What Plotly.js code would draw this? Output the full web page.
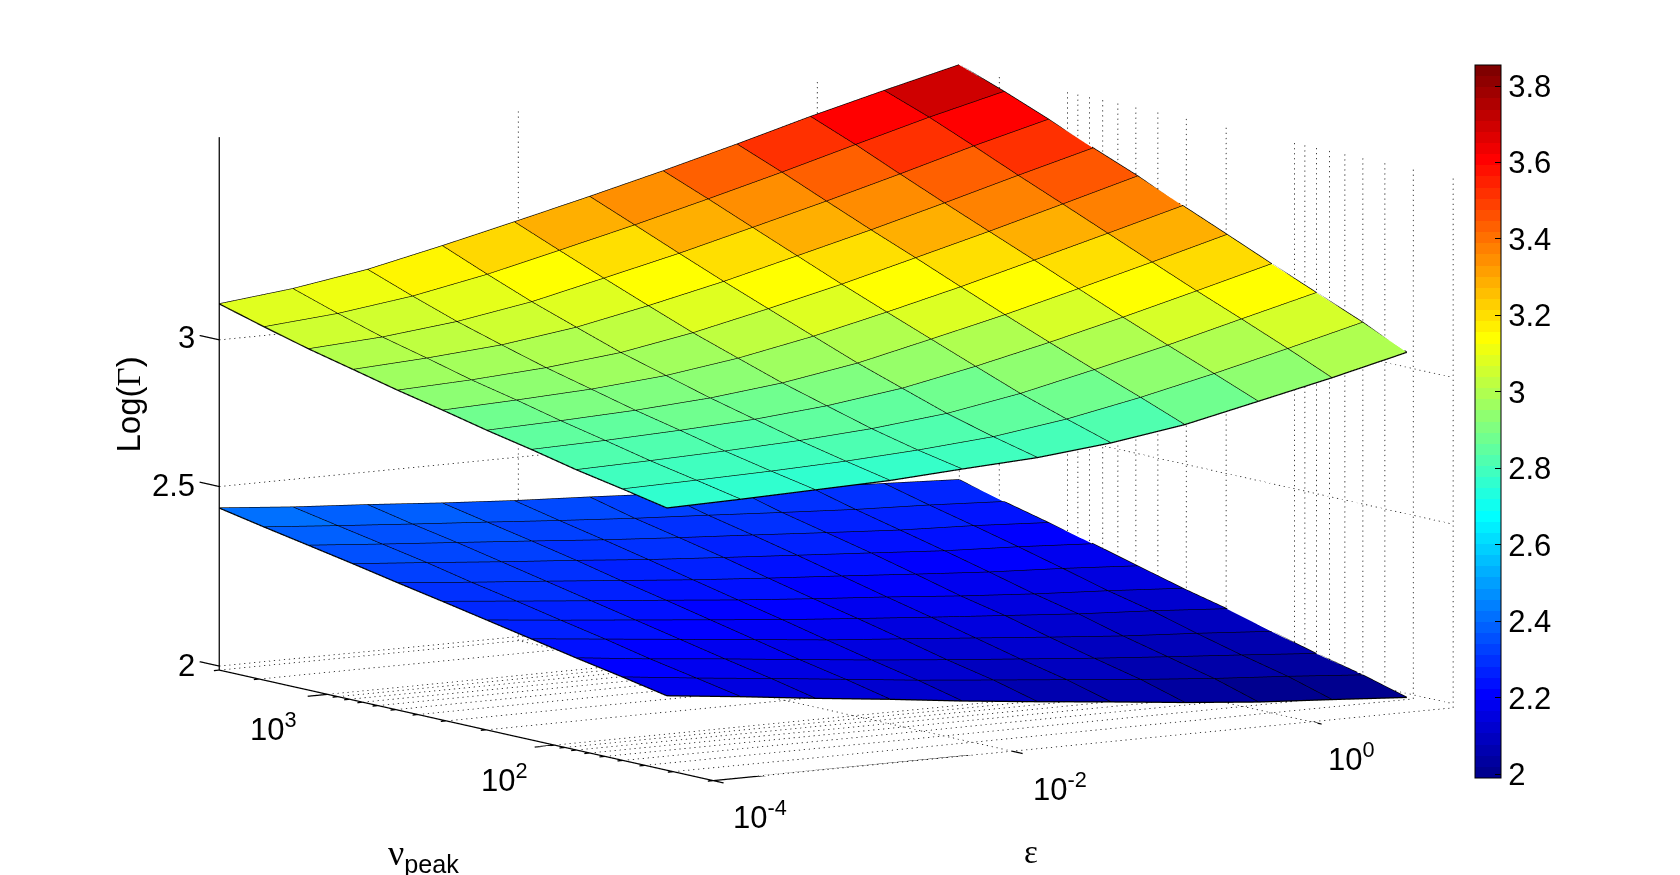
<!DOCTYPE html>
<html>
<head>
<meta charset="utf-8">
<script src="https://cdn.plot.ly/plotly-3.0.1.min.js"></script>
<style>
  body { margin: 0; background: #fff; }
  #plot { width: 1680px; height: 875px; }
</style>
</head>
<body>
<div id="plot"></div>
<script>
// values
var epsilon = [1e-4, 3.1e-4, 9.8e-4, 3.1e-3, 9.4e-3, 3e-2, 9.3e-2, 0.29, 0.9, 2.8, 8.9];
var nuPeak = [3000, 1900, 1210, 770, 490, 310, 198, 126, 80, 50, 32];

var gammaUpper = [
  [3.137, 3.168, 3.215, 3.281, 3.350, 3.426, 3.505, 3.591, 3.683, 3.770, 3.857],
  [3.087, 3.110, 3.149, 3.206, 3.274, 3.348, 3.427, 3.511, 3.601, 3.692, 3.778],
  [3.041, 3.058, 3.089, 3.137, 3.202, 3.272, 3.349, 3.429, 3.515, 3.607, 3.695],
  [3.001, 3.016, 3.038, 3.077, 3.133, 3.199, 3.273, 3.350, 3.433, 3.521, 3.610],
  [2.961, 2.972, 2.990, 3.019, 3.067, 3.131, 3.199, 3.276, 3.355, 3.440, 3.530],
  [2.925, 2.935, 2.948, 2.971, 3.009, 3.064, 3.129, 3.200, 3.278, 3.359, 3.445],
  [2.888, 2.896, 2.907, 2.925, 2.954, 3.000, 3.063, 3.129, 3.203, 3.281, 3.365],
  [2.855, 2.861, 2.871, 2.884, 2.907, 2.944, 2.998, 3.061, 3.130, 3.205, 3.285],
  [2.819, 2.825, 2.833, 2.844, 2.861, 2.889, 2.935, 2.996, 3.061, 3.134, 3.209],
  [2.788, 2.793, 2.799, 2.808, 2.822, 2.843, 2.880, 2.932, 2.993, 3.060, 3.133],
  [2.757, 2.762, 2.769, 2.776, 2.791, 2.805, 2.831, 2.870, 2.928, 2.988, 3.056]
];

var gammaLower = [
  [2.434, 2.415, 2.400, 2.383, 2.369, 2.358, 2.346, 2.335, 2.322, 2.313, 2.303],
  [2.407, 2.389, 2.372, 2.356, 2.340, 2.325, 2.313, 2.300, 2.288, 2.280, 2.269],
  [2.382, 2.364, 2.347, 2.330, 2.313, 2.298, 2.285, 2.271, 2.258, 2.250, 2.238],
  [2.357, 2.339, 2.320, 2.303, 2.285, 2.270, 2.256, 2.242, 2.228, 2.219, 2.207],
  [2.331, 2.311, 2.293, 2.274, 2.256, 2.240, 2.226, 2.211, 2.197, 2.187, 2.174],
  [2.306, 2.286, 2.266, 2.247, 2.228, 2.211, 2.196, 2.179, 2.165, 2.154, 2.141],
  [2.281, 2.260, 2.240, 2.220, 2.201, 2.184, 2.168, 2.153, 2.138, 2.127, 2.113],
  [2.256, 2.235, 2.214, 2.193, 2.173, 2.156, 2.139, 2.122, 2.106, 2.094, 2.080],
  [2.231, 2.208, 2.188, 2.166, 2.146, 2.127, 2.110, 2.093, 2.078, 2.064, 2.049],
  [2.207, 2.184, 2.163, 2.141, 2.120, 2.101, 2.083, 2.065, 2.049, 2.036, 2.021],
  [2.183, 2.161, 2.137, 2.115, 2.092, 2.071, 2.052, 2.032, 2.015, 2.003, 1.990]
];

// axis limits and ticks
var epsMin = 1e-4, epsMax = 8.9;
var nuMin = 20, nuMax = 3000;
var gammaMin = 1.99, gammaMax = 3.86;
var epsTicks = [1e-4, 1e-2, 1];
var nuMajor = [100, 1000];
var nuGrid = [20, 30, 40, 50, 60, 70, 80, 90, 100, 200, 300, 400, 500, 600, 700, 800, 900, 1000, 2000, 3000];
var gammaTicks = [2, 2.5, 3];
var colorbarTicks = [2, 2.2, 2.4, 2.6, 2.8, 3, 3.2, 3.4, 3.6, 3.8];

function log10(v) { return Math.log(v) / Math.LN10; }

// matlab jet(64) as hard steps
function jetScale() {
  var scale = [];
  for (var k = 1; k <= 64; k++) {
    var r = k <= 24 ? 0 : k <= 40 ? (k - 24) / 16 : k <= 56 ? 1 : 1 - (k - 56) / 16;
    var g = k <= 8 ? 0 : k <= 24 ? (k - 8) / 16 : k <= 40 ? 1 : k <= 56 ? (56 - k) / 16 : 0;
    var b = k <= 8 ? 0.5 + k / 16 : k <= 24 ? 1 : k <= 40 ? (40 - k) / 16 : 0;
    var c = "rgb(" + Math.round(r * 255) + "," + Math.round(g * 255) + "," + Math.round(b * 255) + ")";
    scale.push([(k - 1) / 64, c]);
    scale.push([k / 64, c]);
  }
  return scale;
}

function faces(gamma, withBar) {
  var x = [], y = [], z = [], a = [], b = [], c = [], cell = [];
  var n = epsilon.length;
  for (var j = 0; j < nuPeak.length; j++) {
    for (var i = 0; i < n; i++) {
      x.push(epsilon[i]);
      y.push(nuPeak[j]);
      z.push(gamma[j][i]);
    }
  }
  for (var j = 0; j < nuPeak.length - 1; j++) {
    for (var i = 0; i < n - 1; i++) {
      var p = j * n + i;
      a.push(p); b.push(p + 1); c.push(p + n);
      a.push(p + 1); b.push(p + n + 1); c.push(p + n);
      // flat colour of a cell comes from one corner only
      cell.push(gamma[j + 1][i]);
      cell.push(gamma[j + 1][i]);
    }
  }
  return {
    type: "mesh3d", x: x, y: y, z: z, i: a, j: b, k: c,
    intensity: cell, intensitymode: "cell",
    colorscale: jetScale(), cmin: 1.99, cmax: 3.855,
    flatshading: true,
    lighting: { ambient: 1, diffuse: 0, specular: 0, roughness: 1, fresnel: 0 },
    showscale: withBar,
    colorbar: {
      x: 1475 / 1680, xanchor: "left", xpad: 0,
      y: 1 - 421.5 / 875, yanchor: "middle", ypad: 0,
      thickness: 26, thicknessmode: "pixels",
      len: 713, lenmode: "pixels",
      outlinecolor: "#000", outlinewidth: 1,
      tickmode: "array", tickvals: colorbarTicks,
      ticks: "inside", ticklen: 6, tickcolor: "#000", tickwidth: 1,
      tickfont: { family: "Liberation Sans", size: 31, color: "#000" }
    },
    hoverinfo: "skip"
  };
}

function wire(gamma) {
  var x = [], y = [], z = [];
  for (var j = 0; j < nuPeak.length; j++) {
    for (var i = 0; i < epsilon.length; i++) {
      x.push(epsilon[i]); y.push(nuPeak[j]); z.push(gamma[j][i]);
    }
    x.push(null); y.push(null); z.push(null);
  }
  for (var i = 0; i < epsilon.length; i++) {
    for (var j = 0; j < nuPeak.length; j++) {
      x.push(epsilon[i]); y.push(nuPeak[j]); z.push(gamma[j][i]);
    }
    x.push(null); y.push(null); z.push(null);
  }
  return lines(x, y, z, 2.5);
}

function lines(x, y, z, width) {
  return {
    type: "scatter3d", mode: "lines", x: x, y: y, z: z,
    line: { color: "#000", width: width },
    connectgaps: false, showlegend: false, hoverinfo: "skip"
  };
}

function addSeg(s, x0, y0, z0, x1, y1, z1) {
  s.x.push(x0, x1, null);
  s.y.push(y0, y1, null);
  s.z.push(z0, z1, null);
}

// dotted grid line, cut into short pieces in log space; count is dots per line
function addDots(s, x0, y0, z0, x1, y1, z1, count) {
  var rx = Math.pow(x1 / x0, 1 / count), ry = Math.pow(y1 / y0, 1 / count), rz = Math.pow(z1 / z0, 1 / count);
  var on = 0.25;
  for (var n = 0; n < count; n++) {
    addSeg(s,
      x0 * Math.pow(rx, n), y0 * Math.pow(ry, n), z0 * Math.pow(rz, n),
      x0 * Math.pow(rx, n + on), y0 * Math.pow(ry, n + on), z0 * Math.pow(rz, n + on));
  }
}

function gridLines() {
  var s = { x: [], y: [], z: [] };
  epsTicks.forEach(function (e) {
    addDots(s, e, nuMax, gammaMin, e, nuMax, gammaMax, 106);
    addDots(s, e, nuMin, gammaMin, e, nuMax, gammaMin, 102);
  });
  nuGrid.forEach(function (n) {
    addDots(s, epsMax, n, gammaMin, epsMax, n, gammaMax, 106);
    addDots(s, epsMin, n, gammaMin, epsMax, n, gammaMin, 149);
  });
  gammaTicks.forEach(function (g) {
    addDots(s, epsMin, nuMax, g, epsMax, nuMax, g, 149);
    addDots(s, epsMax, nuMax, g, epsMax, nuMin, g, 102);
  });
  return lines(s.x, s.y, s.z, 1.5);
}

function axisLines() {
  var s = { x: [], y: [], z: [] };
  addSeg(s, epsMin, nuMax, gammaMin, epsMin, nuMax, gammaMax);
  addSeg(s, epsMin, nuMin, gammaMin, epsMin, nuMax, gammaMin);
  addSeg(s, epsMin, nuMin, gammaMin, epsMax, nuMin, gammaMin);
  gammaTicks.forEach(function (g) {
    addSeg(s, epsMin, nuMax, g, epsMin, nuMax * 1.22, g);
  });
  nuGrid.forEach(function (n) {
    var out = nuMajor.indexOf(n) >= 0 ? 0.736 : 0.92;
    addSeg(s, epsMin, n, gammaMin, epsMin * out, n, gammaMin);
  });
  epsTicks.forEach(function (e) {
    addSeg(s, e, nuMin, gammaMin, e, nuMin * 0.9, gammaMin);
  });
  return lines(s.x, s.y, s.z, 2.5);
}

var labelFont = { family: "Liberation Sans", size: 31, color: "#000" };

function tickLabel(x, y, z, text, xshift, yshift, anchor) {
  return {
    x: log10(x), y: log10(y), z: log10(z), text: text, showarrow: false,
    xanchor: anchor || "center", yanchor: "middle",
    xshift: xshift, yshift: yshift, font: labelFont
  };
}

var sceneLabels = [
  tickLabel(epsMin, 1000, 2, "10<sup>3</sup>", -54, -37),
  tickLabel(epsMin, 100, 2, "10<sup>2</sup>", -50, -37),
  tickLabel(1e-4, nuMin, 2, "10<sup>-4</sup>", 47, -38),
  tickLabel(1e-2, nuMin, 2, "10<sup>-2</sup>", 48, -40),
  tickLabel(1, nuMin, 2, "10<sup>0</sup>", 40, -39),
  tickLabel(epsMin, nuMax, 3, "3", -22, 2, "right"),
  tickLabel(epsMin, nuMax, 2.5, "2.5", -22, 1, "right"),
  tickLabel(epsMin, nuMax, 2, "2", -22, 1, "right")
];

var serif = "<span style=\"font-family:'Liberation Serif'\">";

var data = [
  gridLines(),
  axisLines(),
  faces(gammaLower, false),
  faces(gammaUpper, true),
  wire(gammaLower),
  wire(gammaUpper)
];

var hiddenAxis = {
  showgrid: false, showline: false, zeroline: false, showbackground: false,
  showticklabels: false, ticks: "", showspikes: false, title: { text: "" }, type: "log"
};

function axisOf(range) {
  var a = {};
  for (var key in hiddenAxis) a[key] = hiddenAxis[key];
  a.range = range;
  return a;
}

// view direction worked out from the box edges in the picture
var eyeDir = [-0.5466, -0.8242, 0.1484];
var eyeDist = 1.5;
var viewCenter = [0.0403, -0.0321, -0.0299];

var titleFont = { family: "Liberation Sans", size: 33, color: "#000" };

var layout = {
  width: 1680,
  height: 875,
  margin: { l: 0, r: 0, t: 0, b: 0 },
  paper_bgcolor: "#fff",
  showlegend: false,
  scene: {
    domain: { x: [0, 1], y: [0, 1] },
    xaxis: axisOf([log10(epsMin) - 0.25, log10(epsMax)]),
    yaxis: axisOf([log10(nuMin) - 0.12, log10(nuMax) + 0.12]),
    zaxis: axisOf([log10(gammaMin), log10(gammaMax)]),
    aspectmode: "manual",
    aspectratio: { x: 2.132, y: 2.268, z: 1.232 },
    camera: {
      projection: { type: "orthographic" },
      up: { x: 0, y: 0, z: 1 },
      center: { x: viewCenter[0], y: viewCenter[1], z: viewCenter[2] },
      eye: {
        x: viewCenter[0] + eyeDir[0] * eyeDist,
        y: viewCenter[1] + eyeDir[1] * eyeDist,
        z: viewCenter[2] + eyeDir[2] * eyeDist
      }
    },
    annotations: sceneLabels
  },
  annotations: [
    { xref: "paper", yref: "paper", x: 107 / 1680, y: 1 - 405 / 875, text: "Log(" + serif + "\u0393</span>)",
      textangle: -90, showarrow: false, font: titleFont },
    { xref: "paper", yref: "paper", x: 386 / 1680, xanchor: "left", y: 1 - 855 / 875, yanchor: "middle",
      text: serif + "\u03bd</span><sub>peak</sub>", showarrow: false,
      font: { family: "Liberation Sans", size: 36, color: "#000" } },
    { xref: "paper", yref: "paper", x: 1031 / 1680, y: 1 - 852 / 875, yanchor: "middle",
      text: serif + "\u03b5</span>", showarrow: false, font: titleFont }
  ]
};

Plotly.newPlot("plot", data, layout, { displayModeBar: false });
</script>
</body>
</html>
